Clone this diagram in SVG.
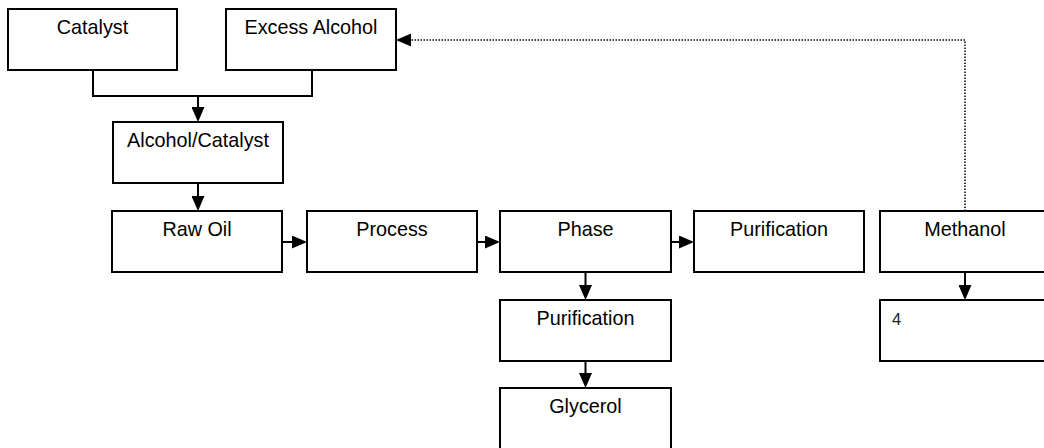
<svg xmlns="http://www.w3.org/2000/svg" width="1044" height="448" viewBox="0 0 1044 448">
<style>
.box{fill:#fff;stroke:#000;stroke-width:2}
.lbl{font-family:"Liberation Sans",Arial,sans-serif;font-size:19.8px;fill:#000;text-anchor:middle}
.num{font-family:"Liberation Sans",Arial,sans-serif;font-size:16.5px;fill:#222}
.conn{fill:none;stroke:#000;stroke-width:2}
.dot{fill:none;stroke:#000;stroke-width:1.5;stroke-dasharray:1.5 1.5}
</style>
<defs>
<marker id="ah" markerUnits="userSpaceOnUse" markerWidth="15" markerHeight="13" refX="0" refY="6.5" orient="auto" viewBox="0 0 15 13">
<path d="M0,0 L15,6.5 L0,13 z" fill="#000"/>
</marker>
</defs>
<rect width="1044" height="448" fill="#fff"/>
<g id="catalyst"><rect class="box" x="8" y="9" width="169" height="61"/><text class="lbl" x="92.5" y="34">Catalyst</text></g>
<g id="excess-alcohol"><rect class="box" x="226" y="9" width="170" height="61"/><text class="lbl" x="311" y="34">Excess Alcohol</text></g>
<g id="alcohol-catalyst"><rect class="box" x="113" y="122" width="170" height="61"/><text class="lbl" x="198" y="147">Alcohol/Catalyst</text></g>
<g id="raw-oil"><rect class="box" x="112" y="211" width="170" height="61"/><text class="lbl" x="197" y="236">Raw Oil</text></g>
<g id="process"><rect class="box" x="307" y="211" width="170" height="61"/><text class="lbl" x="392" y="236">Process</text></g>
<g id="phase"><rect class="box" x="500" y="211" width="171" height="61"/><text class="lbl" x="585.5" y="236">Phase</text></g>
<g id="purification-1"><rect class="box" x="694" y="211" width="170" height="61"/><text class="lbl" x="779" y="236">Purification</text></g>
<g id="methanol"><rect class="box" x="880" y="211" width="170" height="61"/><text class="lbl" x="965" y="236">Methanol</text></g>
<g id="purification-2"><rect class="box" x="500" y="300" width="171" height="61"/><text class="lbl" x="585.5" y="325">Purification</text></g>
<g id="box-4"><rect class="box" x="880" y="300" width="170" height="61"/><text class="num" x="892" y="325">4</text></g>
<g id="glycerol"><rect class="box" x="500" y="388" width="171" height="61"/><text class="lbl" x="585.5" y="413">Glycerol</text></g>
<g id="connectors">
<path class="conn" d="M93,70 V96 H312 V70"/>
<path class="conn" d="M198,96 V107" marker-end="url(#ah)"/>
<path class="conn" d="M198,183 V196" marker-end="url(#ah)"/>
<path class="conn" d="M282,242 H292" marker-end="url(#ah)"/>
<path class="conn" d="M477,242 H485" marker-end="url(#ah)"/>
<path class="conn" d="M671,242 H679" marker-end="url(#ah)"/>
<path class="conn" d="M585.5,272 V285" marker-end="url(#ah)"/>
<path class="conn" d="M585.5,361 V373" marker-end="url(#ah)"/>
<path class="conn" d="M965,272 V285" marker-end="url(#ah)"/>
<path class="dot" d="M965,211 V40 H411"/>
<path d="M411,33.5 L396,40 L411,46.5 z" fill="#000"/>
</g>
</svg>
